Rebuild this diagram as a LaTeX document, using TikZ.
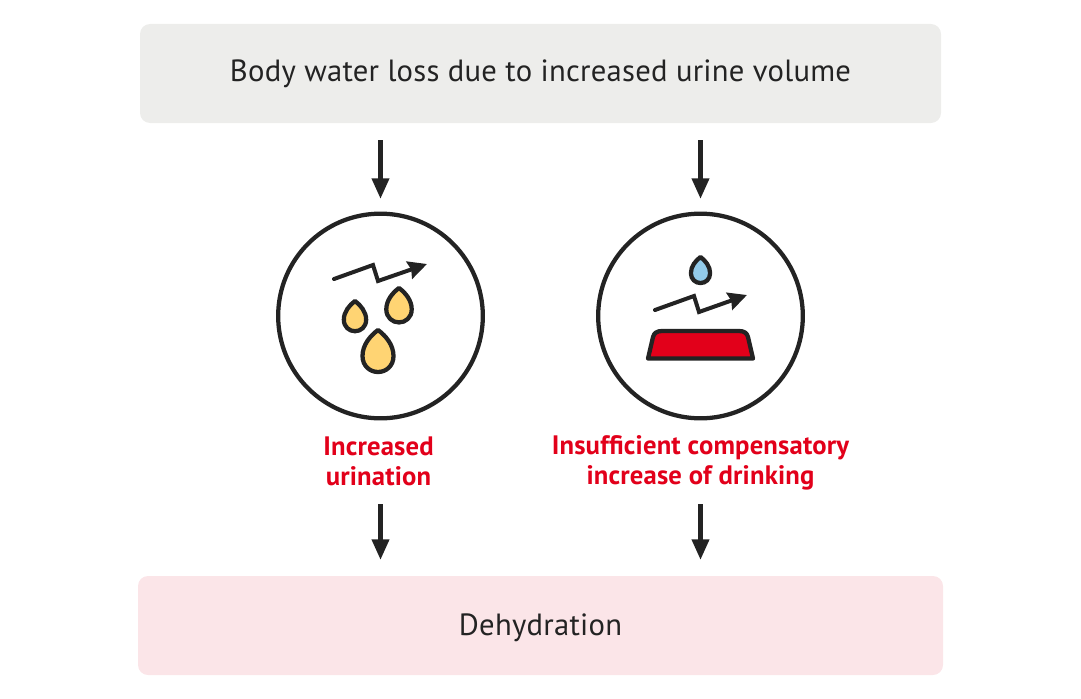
\documentclass[tikz,border=0pt]{standalone}
\usepackage{fontspec}
\setmainfont{PT Sans}
\usetikzlibrary{positioning,arrows.meta}
\definecolor{inkdark}{HTML}{232323}
\definecolor{redmark}{HTML}{E2001A}
\definecolor{greybox}{HTML}{EDEDEB}
\definecolor{pinkbox}{HTML}{FBE5E8}
\definecolor{dropyellow}{HTML}{FFD473}
\definecolor{dropblue}{HTML}{93CBEA}
\tikzset{
    banner/.style={rectangle, rounded corners=7.5pt, minimum height=74.25pt},
    bannertext/.style={text=inkdark, font=\fontsize{23pt}{27pt}\selectfont\addfontfeature{LetterSpace=0.8}},
    ring/.style={circle, draw=inkdark, line width=3.2pt, minimum size=153.5pt, inner sep=0pt},
    redlabel/.style={text=redmark, align=center, font=\fontsize{20pt}{22.5pt}\selectfont\bfseries\addfontfeature{LetterSpace=0.7}},
    flow/.style={draw=inkdark, line width=3.6pt, -{Triangle[width=12.5pt, length=15.5pt]}},
    trend/.style={draw=inkdark, line width=3pt, line cap=round, line join=miter, -{Stealth[width=13.5pt, length=14pt, inset=1.5pt]}},
    pics/waterdrop/.style={code={
        \draw[line width=3.2pt, draw=inkdark, fill=#1, line join=round]
            (0,0) .. controls (8,6) and (15.5,15) .. (15.5,26)
            .. controls (15.5,36) and (8,42) .. (0,42)
            .. controls (-8,42) and (-15.5,36) .. (-15.5,26)
            .. controls (-15.5,15) and (-8,6) .. (0,0) -- cycle;
    }}
}
\begin{document}
\begin{tikzpicture}[x=0.75pt, y=-0.75pt]
    \useasboundingbox (0,0) rectangle (1081,699);
    \node[banner, fill=greybox, minimum width=600.75pt] (loss) at (540.5,73.5) {};
    \node[bannertext] (losstext) at (540.5,73.5) {Body water loss due to increased urine volume};
    \node[banner, fill=pinkbox, minimum width=603.75pt] (dehyd) at (540.5,625.5) {};
    \node[bannertext] (dehydtext) at (540.5,628) {Dehydration};
    \node[ring] (left) at (380.5,316) {};
    \node[ring] (right) at (700.5,316) {};
    \node[redlabel] (urination) at (378.5,461.5) {Increased\\urination};
    \node[redlabel] (drinking) at (700.5,463) {Insufficient compensatory\\increase of drinking};
    % arrows
    \coordinate (a1) at (380.5,140);
    \coordinate (a2) at (700.5,140);
    \coordinate (b1) at (380.5,199);
    \coordinate (b2) at (700.5,199);
    \coordinate (c1) at (380.5,504);
    \coordinate (c2) at (700.5,504);
    \coordinate (d1) at (380.5,560);
    \coordinate (d2) at (700.5,560);
    \draw[flow] (a1) -- (b1);
    \draw[flow] (a2) -- (b2);
    \draw[flow] (c1) -- (d1);
    \draw[flow] (c2) -- (d2);
    % icons
    \draw[trend] (334,279) -- (373,265) -- (378,281) -- (427,264);
    \pic[scale=0.72] at (355,301) {waterdrop=dropyellow};
    \pic[scale=0.82] at (399,288) {waterdrop=dropyellow};
    \pic at (378,330) {waterdrop=dropyellow};
    \draw[trend] (655,310) -- (694,296) -- (699,312) -- (747,295);
    \pic[scale=0.62] at (700.5,257) {waterdrop=dropblue};
    \draw[line width=3.2pt, draw=inkdark, fill=redmark, line join=round]
        (648,358.5) -- (653,337) .. controls (654,333) and (657,331) .. (662,331)
        -- (739,331) .. controls (744,331) and (747,333) .. (748,337) -- (753,358.5) -- cycle;
\end{tikzpicture}
\end{document}
